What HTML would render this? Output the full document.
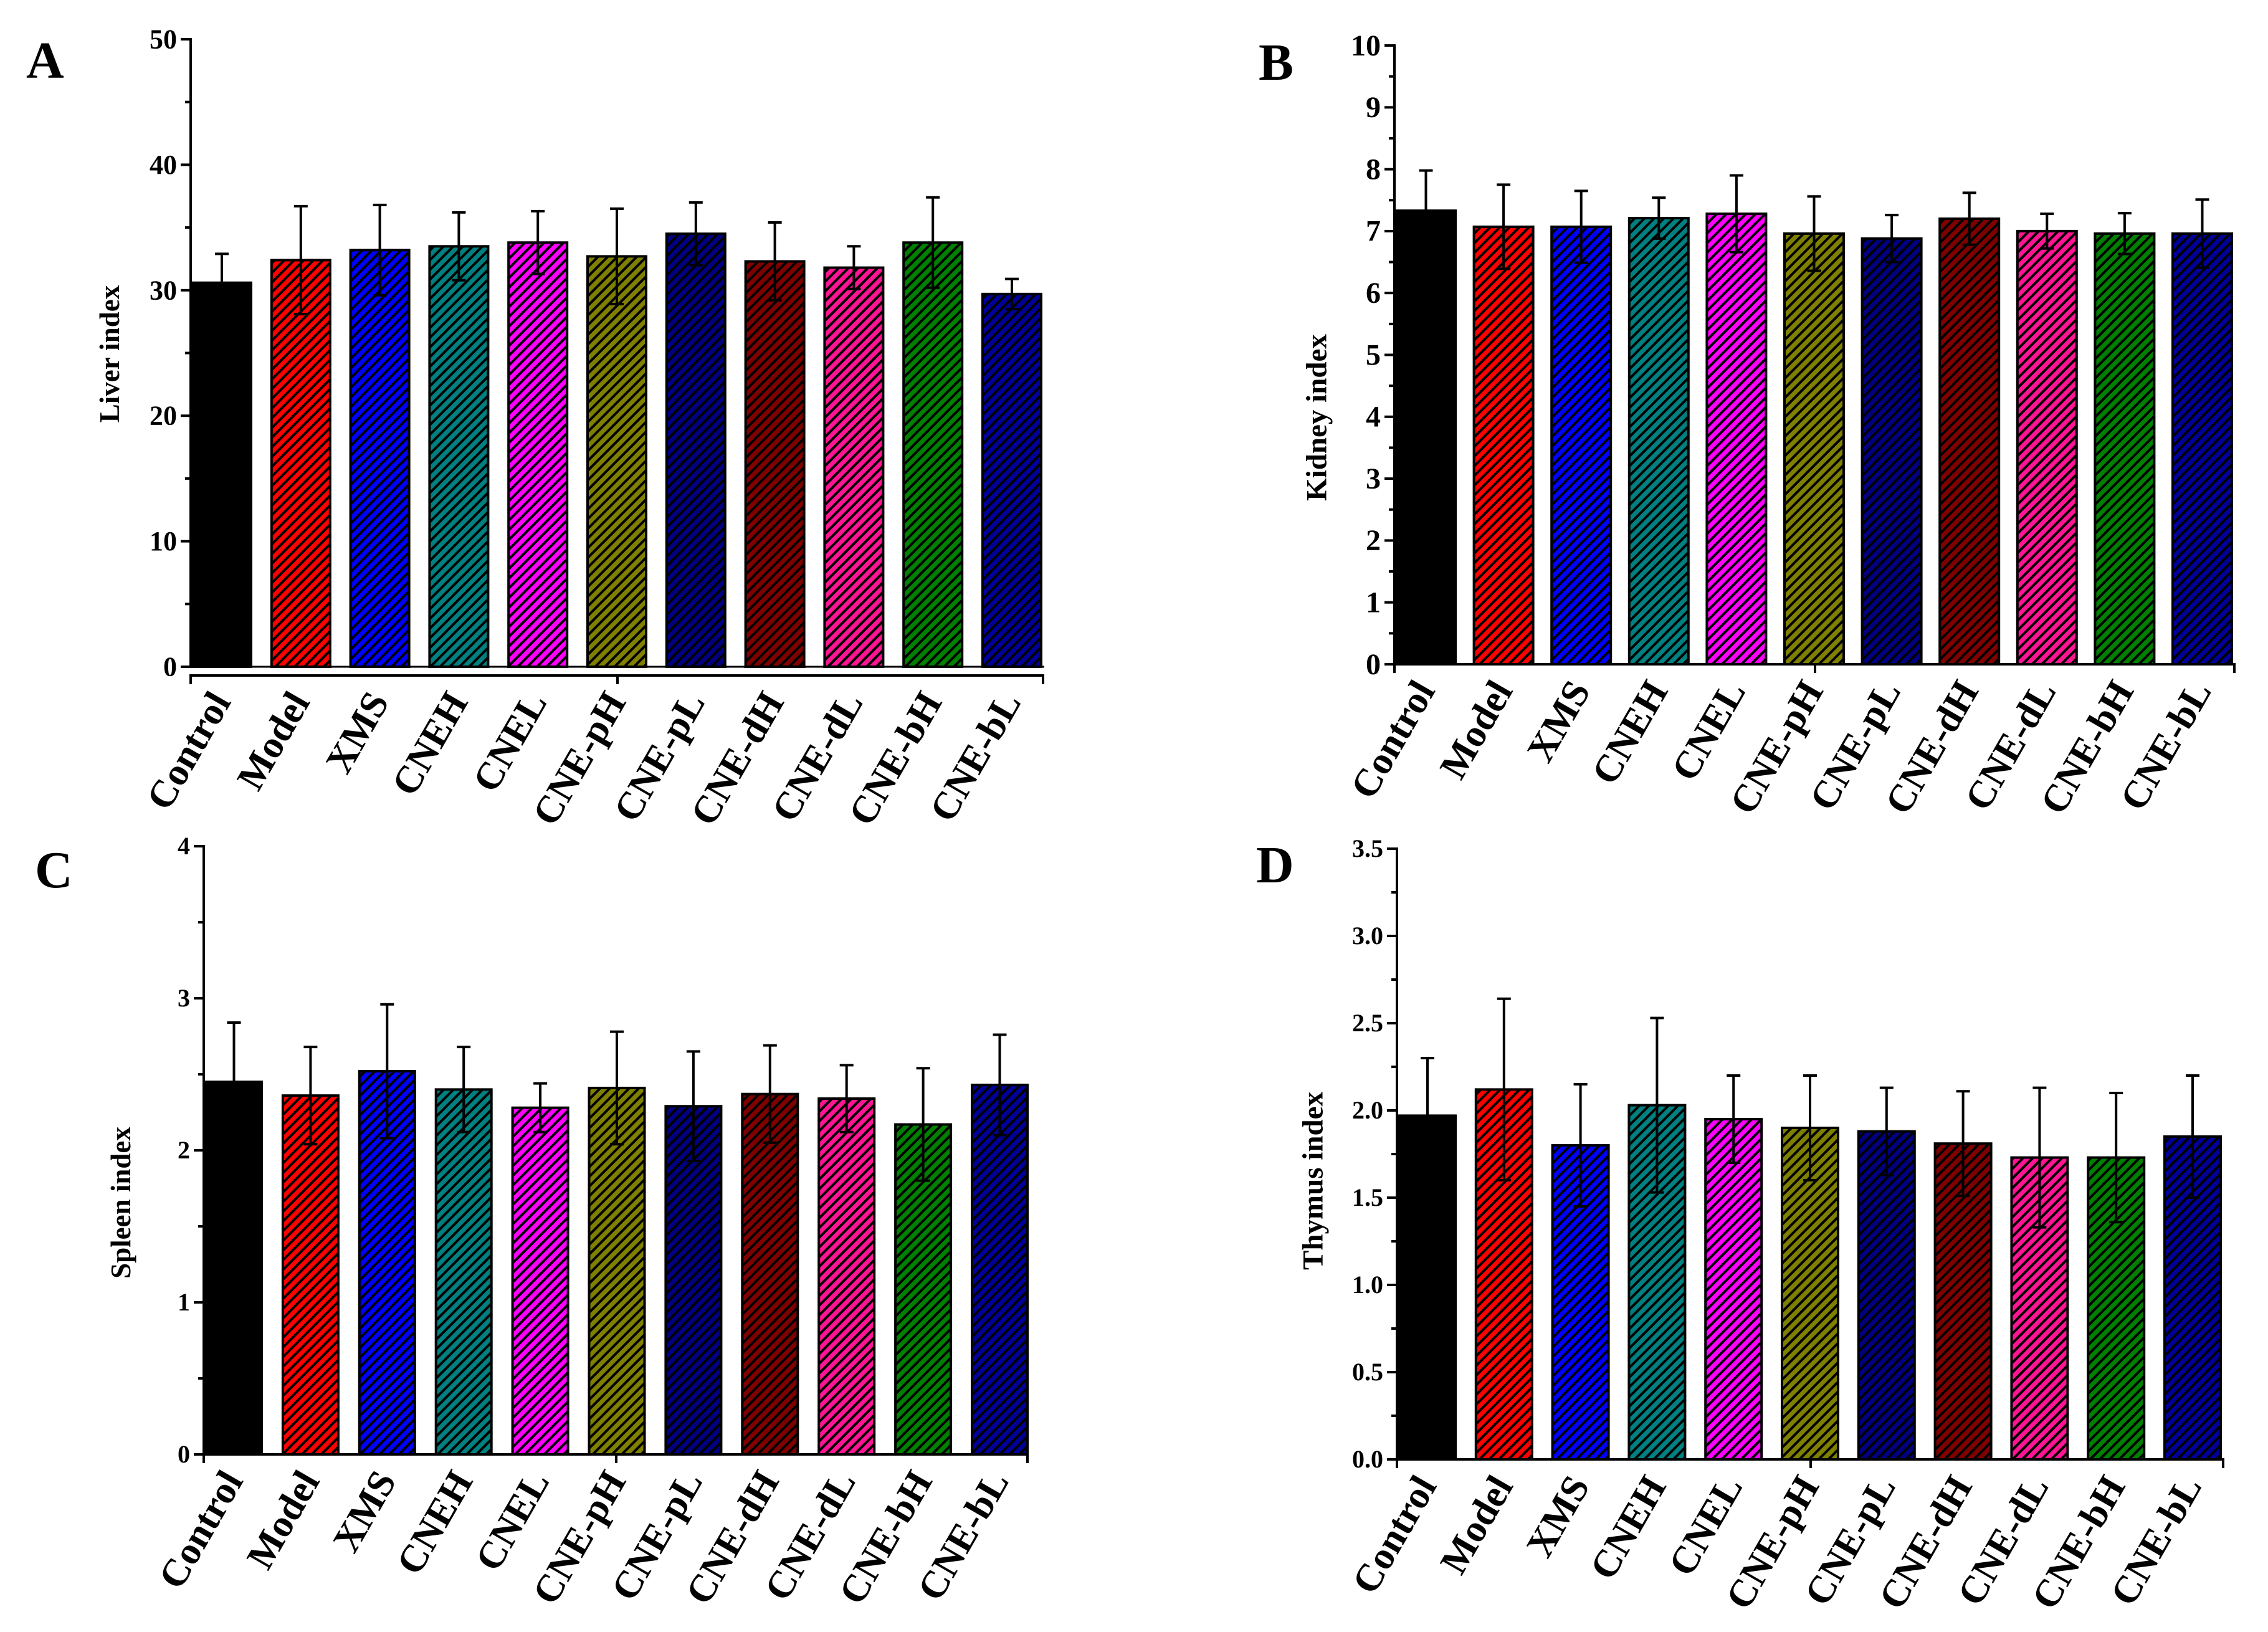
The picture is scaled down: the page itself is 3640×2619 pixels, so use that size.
<!DOCTYPE html>
<html><head><meta charset="utf-8"><style>
html,body{margin:0;padding:0;background:#fff;}
svg{display:block;font-family:"Liberation Serif",serif;font-weight:bold;}
</style></head><body>
<svg id="fig" width="3640" height="2619" viewBox="0 0 3640 2619" xmlns="http://www.w3.org/2000/svg">
<defs id="defs"></defs>
</svg>
<script>
const categories = ["Control","Model","XMS","CNEH","CNEL","CNE-pH","CNE-pL","CNE-dH","CNE-dL","CNE-bH","CNE-bL"];
const barColors = ["#000000","#ff0000","#0000ff","#008080","#ff00ff","#808000","#000080","#800000","#ff1493","#008000","#000099"];
const liverValues = [30.6,32.4,33.2,33.5,33.8,32.7,34.5,32.3,31.8,33.8,29.7];
const liverErrors = [2.3,4.3,3.6,2.7,2.5,3.8,2.5,3.1,1.7,3.6,1.2];
const kidneyValues = [7.33,7.07,7.07,7.21,7.28,6.96,6.88,7.20,7.00,6.96,6.96];
const kidneyErrors = [0.65,0.68,0.58,0.33,0.62,0.60,0.38,0.42,0.28,0.33,0.55];
const spleenValues = [2.45,2.36,2.52,2.40,2.28,2.41,2.29,2.37,2.34,2.17,2.43];
const spleenErrors = [0.39,0.32,0.44,0.28,0.16,0.37,0.36,0.32,0.22,0.37,0.33];
const thymusValues = [1.97,2.12,1.80,2.03,1.95,1.90,1.88,1.81,1.73,1.73,1.85];
const thymusErrors = [0.33,0.52,0.35,0.50,0.25,0.30,0.25,0.30,0.40,0.37,0.35];
const liverTicks = [0,10,20,30,40,50];
const kidneyTicks = [0,1,2,3,4,5,6,7,8,9,10];
const spleenTicks = [0,1,2,3,4];
const thymusTicks = ["0.0","0.5","1.0","1.5","2.0","2.5","3.0","3.5"];

const NS="http://www.w3.org/2000/svg";
const svg=document.getElementById('fig');
const defs=document.getElementById('defs');
function mk(tag,attrs,parent){const e=document.createElementNS(NS,tag);for(const k in attrs)e.setAttribute(k,attrs[k]);(parent||svg).appendChild(e);return e;}

barColors.forEach((c,i)=>{
  const p=mk('pattern',{id:'h'+i,patternUnits:'userSpaceOnUse',width:11,height:11,patternTransform:'rotate(45)'},defs);
  mk('rect',{x:0,y:0,width:11,height:11,fill:c},p);
  if(i>0) mk('rect',{x:0,y:0,width:4,height:11,fill:'#000'},p);
});

const panels=[
 {id:'a',letter:'A',lx:42,ly:125,title:'Liver index',tx:175,ty:568,tfs:45,ax:306,y0:1070,yTop:63,max:50,xEnd:1676,first:309,step:126.8,bw:94,vals:liverValues,errs:liverErrors,ticks:liverTicks,tfont:44,offsetAxis:14},
 {id:'b',letter:'B',lx:2020,ly:128,title:'Kidney index',tx:2112,ty:670,tfs:47,ax:2238,y0:1066,yTop:73,max:10,xEnd:3588,first:2241,step:124.6,bw:95,vals:kidneyValues,errs:kidneyErrors,ticks:kidneyTicks,tfont:48,offsetAxis:0},
 {id:'c',letter:'C',lx:56,ly:1424,title:'Spleen index',tx:193,ty:1930,tfs:45,ax:327,y0:2334,yTop:1358,max:4,xEnd:1651,first:331,step:122.9,bw:89,vals:spleenValues,errs:spleenErrors,ticks:spleenTicks,tfont:40,offsetAxis:0},
 {id:'d',letter:'D',lx:2016,ly:1416,title:'Thymus index',tx:2106,ty:1895,tfs:47,ax:2242,y0:2342,yTop:1362,max:3.5,xEnd:3570,first:2246,step:122.8,bw:90,vals:thymusValues,errs:thymusErrors,ticks:thymusTicks,tfont:40,offsetAxis:0}
];

panels.forEach(P=>{
  const g=mk('g',{});
  
  
  const yS=v=>P.y0-(v/P.max)*(P.y0-P.yTop);
  const xS=i=>P.first+i*P.step;
  const L=mk('text',{x:P.lx,y:P.ly,'font-size':84},g);L.textContent=P.letter;
  
  
  P.vals.forEach((v,i)=>{
    const r=mk('rect',{x:xS(i),y:yS(v),width:P.bw,height:P.y0-yS(v),fill:'url(#h'+i+')',stroke:'#000','stroke-width':4},g);
    
    
  });
  P.vals.forEach((v,i)=>{
    const cx=xS(i)+P.bw/2, e=P.errs[i];
    const eg=mk('g',{stroke:'#000','stroke-width':4},g);
    
    
    mk('line',{x1:cx,x2:cx,y1:yS(v+e),y2:yS(v-e)},eg);
    mk('line',{x1:cx-11,x2:cx+11,y1:yS(v+e),y2:yS(v+e)},eg);
    mk('line',{x1:cx-11,x2:cx+11,y1:yS(v-e),y2:yS(v-e)},eg);
  });
  const ya=mk('g',{stroke:'#000','stroke-width':4},g);
  
  
  mk('line',{x1:P.ax,x2:P.ax,y1:P.yTop-2,y2:P.y0+2},ya);
  P.ticks.forEach((t,k)=>{
    const y=yS(parseFloat(t));
    mk('line',{x1:P.ax-16,x2:P.ax,y1:y,y2:y},ya);
    if(k<P.ticks.length-1){const ym=yS((parseFloat(t)+parseFloat(P.ticks[k+1]))/2);mk('line',{x1:P.ax-9,x2:P.ax,y1:ym,y2:ym},ya);}
    const tt=mk('text',{x:P.ax-22,y:y+P.tfont*0.33,'font-size':P.tfont,'text-anchor':'end'},g);
    tt.textContent=t;
    
    
  });
  const xa=mk('g',{stroke:'#000','stroke-width':4},g);
  
  
  const xy=P.y0+P.offsetAxis;
  mk('line',{x1:P.ax-2,x2:P.xEnd,y1:xy,y2:xy},xa);
  if(P.offsetAxis) mk('line',{x1:P.ax,x2:P.xEnd,y1:P.y0,y2:P.y0,'stroke-width':3},xa);
  [P.ax,(P.ax+P.xEnd)/2,P.xEnd-2].forEach(x=>mk('line',{x1:x,x2:x,y1:xy,y2:xy+14},xa));
  categories.forEach((c,i)=>{
    const cx=xS(i)+P.bw/2+16, cy=xy+42;
    const t=mk('text',{x:cx,y:cy,'font-size':62,'text-anchor':'end',transform:`rotate(-60 ${cx} ${cy})`},g);
    t.textContent=c;
    
    
  });
  const T=mk('text',{x:P.tx,y:P.ty,'font-size':P.tfs,'text-anchor':'middle',transform:`rotate(-90 ${P.tx} ${P.ty})`,dy:P.tfs*0.35},g);
  T.textContent=P.title;
  
  
});
</script>
</body></html>
